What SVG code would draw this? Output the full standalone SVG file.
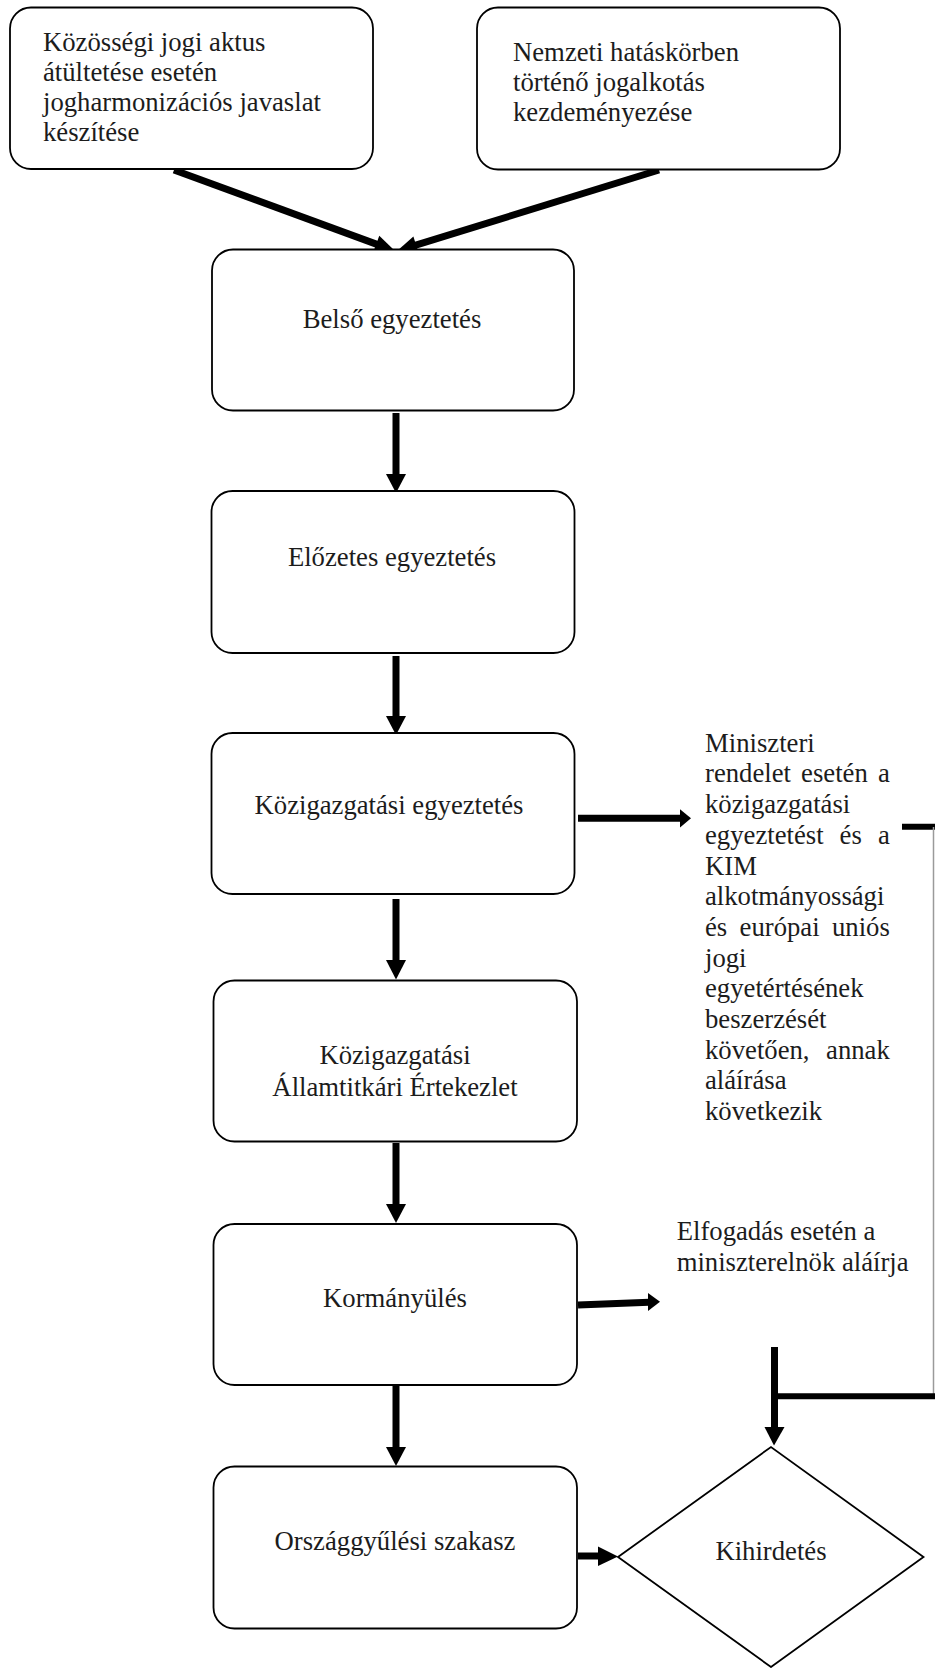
<svg xmlns="http://www.w3.org/2000/svg" width="935" height="1668" viewBox="0 0 935 1668">
<style>
.box{fill:#fff;stroke:#000;stroke-width:1.8}
.t{font-family:"Liberation Serif","Times New Roman",serif;font-size:26.7px;fill:#1c1c1c}
.c{text-anchor:middle}
.sh{stroke:#000;stroke-width:7;fill:none}
.hd{fill:#000;stroke:none}
</style>
<rect width="935" height="1668" fill="#fff"/>
<g id="connectors">
<line class="sh" x1="174" y1="170" x2="377" y2="244.4"/>
<polygon class="hd" points="395,251 373.1,252.6 379.3,235.7"/>
<line class="sh" x1="659" y1="170" x2="415" y2="245.4"/>
<polygon class="hd" points="397,251 413.4,236.5 418.8,253.7"/>
<line class="sh" x1="396" y1="413" x2="396" y2="475"/>
<polygon class="hd" points="386,474 406,474 396,493"/>
<line class="sh" x1="396" y1="656" x2="396" y2="717"/>
<polygon class="hd" points="386,716 406,716 396,735"/>
<line class="sh" x1="396" y1="899" x2="396" y2="961"/>
<polygon class="hd" points="386,960 406,960 396,979.5"/>
<line class="sh" x1="396" y1="1143" x2="396" y2="1205"/>
<polygon class="hd" points="386,1204 406,1204 396,1223"/>
<line class="sh" x1="396" y1="1386" x2="396" y2="1448"/>
<polygon class="hd" points="386,1447 406,1447 396,1466"/>
<line class="sh" x1="578" y1="818.3" x2="681" y2="818.3"/>
<polygon class="hd" points="680,809.3 691,818.3 680,827.5"/>
<line class="sh" x1="578" y1="1305" x2="649" y2="1302.3"/>
<polygon class="hd" points="648,1293 660,1301.8 648,1311"/>
<line class="sh" x1="578" y1="1556" x2="599" y2="1556"/>
<polygon class="hd" points="598,1546.5 618,1556.5 598,1566"/>
<line stroke="#000" stroke-width="6" x1="902" y1="826.7" x2="935" y2="826.7"/>
<line stroke="#9a9a9a" stroke-width="1.5" x1="933.5" y1="827" x2="933.5" y2="1397"/>
<line stroke="#000" stroke-width="6" x1="772" y1="1396.3" x2="935" y2="1396.3"/>
<line class="sh" x1="774.5" y1="1347" x2="774.5" y2="1428"/>
<polygon class="hd" points="764.5,1427 784.5,1427 774,1445.5"/>
</g>
<g id="node-kozossegi">
<rect class="box" x="10" y="7.5" width="363" height="161.5" rx="21"/>
<text class="t" x="43" y="51">Közösségi jogi aktus</text>
<text class="t" x="43" y="81">átültetése esetén</text>
<text class="t" x="43" y="111">jogharmonizációs javaslat</text>
<text class="t" x="43" y="141">készítése</text>
</g>
<g id="node-nemzeti">
<rect class="box" x="477" y="7.5" width="363" height="162" rx="21"/>
<text class="t" x="513" y="61">Nemzeti hatáskörben</text>
<text class="t" x="513" y="91">történő jogalkotás</text>
<text class="t" x="513" y="121">kezdeményezése</text>
</g>
<g id="node-belso">
<rect class="box" x="212" y="249.5" width="362" height="161" rx="21"/>
<text class="t c" x="392" y="328">Belső egyeztetés</text>
</g>
<g id="node-elozetes">
<rect class="box" x="211.5" y="491" width="363" height="162" rx="21"/>
<text class="t c" x="392" y="566">Előzetes egyeztetés</text>
</g>
<g id="node-kozig">
<rect class="box" x="211.5" y="733" width="363" height="161" rx="21"/>
<text class="t c" x="389" y="813.5">Közigazgatási egyeztetés</text>
</g>
<g id="node-kae">
<rect class="box" x="213.5" y="980.5" width="363.5" height="161" rx="21"/>
<text class="t c" x="395" y="1064.3">Közigazgatási</text>
<text class="t c" x="395" y="1096">Államtitkári Értekezlet</text>
</g>
<g id="node-kormanyules">
<rect class="box" x="213.5" y="1224" width="363.5" height="161" rx="21"/>
<text class="t c" x="395" y="1306.7">Kormányülés</text>
</g>
<g id="node-orszaggyulesi">
<rect class="box" x="213.5" y="1466.5" width="363.5" height="162" rx="21"/>
<text class="t c" x="395" y="1550">Országgyűlési szakasz</text>
</g>
<g id="node-kihirdetes">
<polygon class="box" points="618,1557 771,1447 923.5,1557 771,1667"/>
<text class="t c" x="771" y="1560">Kihirdetés</text>
</g>
<g id="note-miniszteri">
<text class="t" x="705" y="751.7">Miniszteri</text>
<text class="t" x="705" y="782.4" word-spacing="3.5">rendelet esetén a</text>
<text class="t" x="705" y="813.1">közigazgatási</text>
<text class="t" x="705" y="843.8" word-spacing="9.4">egyeztetést és a</text>
<text class="t" x="705" y="874.5">KIM</text>
<text class="t" x="705" y="905.2">alkotmányossági</text>
<text class="t" x="705" y="935.9" word-spacing="5.7">és európai uniós</text>
<text class="t" x="705" y="966.6">jogi</text>
<text class="t" x="705" y="997.3">egyetértésének</text>
<text class="t" x="705" y="1028">beszerzését</text>
<text class="t" x="705" y="1058.7" word-spacing="9.9">követően, annak</text>
<text class="t" x="705" y="1089.4">aláírása</text>
<text class="t" x="705" y="1120.1">következik</text>
</g>
<g id="note-elfogadas">
<text class="t" x="676.7" y="1240">Elfogadás esetén a</text>
<text class="t" x="676.7" y="1271">miniszterelnök aláírja</text>
</g>
</svg>
